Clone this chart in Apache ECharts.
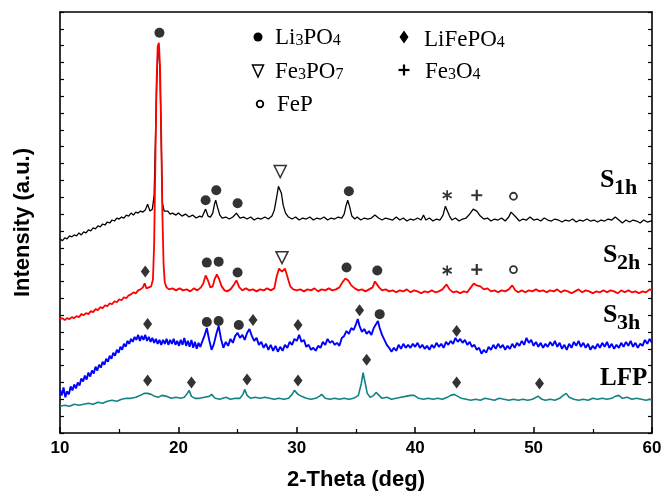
<!DOCTYPE html>
<html>
<head>
<meta charset="utf-8" />
<title>XRD</title>
<script src="https://cdn.jsdelivr.net/npm/echarts@6/dist/echarts.min.js"></script>
<style>
  html, body { margin: 0; padding: 0; background: #fff; }
  #chart { width: 665px; height: 496px; }
</style>
</head>
<body>
<div id="chart"></div>
<script>
// intensity is in arbitrary units, offset per pattern as in the figure
var s1h = [[10,196],[10.2,194],[10.4,197],[10.6,196],[10.8,199],[11,198],[11.2,200],[11.4,199],[11.6,202],[11.8,200],[12,203],[12.2,202],[12.4,205],[12.6,204],[12.8,207],[13,206],[13.2,209],[13.4,208],[13.6,211],[13.8,210],[14,213],[14.2,212],[14.4,215],[14.6,214],[14.8,217],[15,216],[15.2,218],[15.4,217],[15.6,220],[15.8,219],[16,222],[16.2,220],[16.4,223],[16.6,222],[16.8,224],[17,223],[17.2,225],[17.4,231],[17.6,224],[17.8,226],[17.95,240],[18.05,290],[18.15,345],[18.25,382],[18.35,386],[18.45,362],[18.55,295],[18.65,232],[18.8,224],[18.95,222],[19.1,224],[19.3,221],[19.5,222],[19.8,220],[20,222],[20.3,219],[20.6,221],[20.9,218],[21.2,220],[21.5,217],[21.8,219],[22.0,218],[22.15,222],[22.3,226],[22.5,219],[22.7,218],[22.9,222],[23.05,231],[23.15,235],[23.3,228],[23.5,220],[23.7,217],[24.0,218],[24.3,216],[24.6,218],[24.9,222],[25.2,217],[25.5,218],[25.8,216],[26.1,218],[26.4,215],[26.7,217],[27.0,216],[27.3,218],[27.6,216],[27.9,219],[28.1,225],[28.3,238],[28.45,249],[28.55,250],[28.7,242],[28.85,230],[29.05,222],[29.3,218],[29.6,216],[29.9,218],[30.2,215],[30.5,217],[30.8,216],[31.1,218],[31.4,215],[31.7,217],[32.0,216],[32.3,218],[32.6,215],[32.9,217],[33.2,216],[33.5,218],[33.8,217],[34.0,221],[34.15,229],[34.3,235],[34.45,229],[34.65,219],[34.9,216],[35.1,218],[35.4,215],[35.7,217],[36.0,216],[36.3,217],[36.6,220],[36.9,217],[37.2,215],[37.5,217],[37.8,216],[38.1,215],[38.4,218],[38.7,215],[39.0,217],[39.3,214],[39.6,216],[39.9,215],[40.2,217],[40.5,215],[40.7,220],[40.9,215],[41.2,217],[41.5,214],[41.8,216],[42.1,215],[42.35,220],[42.55,229],[42.7,228],[42.9,219],[43.1,215],[43.4,217],[43.7,214],[44.0,216],[44.3,217],[44.6,221],[44.9,226],[45.2,224],[45.5,219],[45.8,216],[46.1,217],[46.4,214],[46.7,216],[47.0,215],[47.3,217],[47.6,214],[47.9,218],[48.1,223],[48.25,225],[48.5,218],[48.8,214],[49.1,216],[49.4,215],[49.7,218],[50.0,215],[50.3,216],[50.6,214],[50.9,217],[51.2,215],[51.5,214],[51.8,216],[52.1,215],[52.4,213],[52.7,215],[53.0,214],[53.3,216],[53.6,213],[53.9,215],[54.2,214],[54.5,216],[54.8,214],[55.1,215],[55.4,213],[55.7,215],[56.0,214],[56.3,216],[56.6,215],[56.9,218],[57.2,215],[57.5,212],[57.8,215],[58.1,213],[58.4,215],[58.7,214],[59.0,212],[59.3,215],[59.6,213],[59.9,214],[60,214]];

var s2h = [[10,115],[10.2,116],[10.4,114],[10.6,116],[10.8,115],[11,117],[11.2,116],[11.4,118],[11.6,117],[11.8,120],[12,119],[12.2,121],[12.4,120],[12.6,123],[12.8,122],[13,125],[13.2,124],[13.4,127],[13.6,126],[13.8,129],[14,128],[14.2,131],[14.4,130],[14.6,133],[14.8,132],[15,135],[15.2,134],[15.4,137],[15.6,136],[15.8,139],[16,140],[16.2,142],[16.4,141],[16.6,144],[16.8,145],[17.0,147],[17.15,151],[17.3,146],[17.5,147],[17.7,148],[17.85,155],[17.95,190],[18.05,270],[18.15,350],[18.25,390],[18.35,394],[18.45,370],[18.55,300],[18.65,220],[18.75,170],[18.85,152],[19.0,147],[19.2,145],[19.5,146],[19.8,144],[20.1,146],[20.4,144],[20.7,145],[21.0,143],[21.3,146],[21.6,144],[21.9,147],[22.1,151],[22.3,159],[22.5,154],[22.7,147],[22.9,148],[23.05,155],[23.25,160],[23.45,155],[23.65,148],[23.9,144],[24.1,143],[24.4,145],[24.65,149],[24.9,154],[25.15,147],[25.4,144],[25.7,146],[26.0,144],[26.3,145],[26.6,143],[26.9,145],[27.2,144],[27.5,146],[27.8,144],[28.1,146],[28.3,158],[28.5,166],[28.75,163],[29.0,166],[29.2,158],[29.45,148],[29.7,145],[30.0,144],[30.3,145],[30.6,143],[30.9,145],[31.2,144],[31.5,146],[31.8,143],[32.1,145],[32.4,144],[32.7,146],[33.0,144],[33.3,145],[33.6,147],[33.9,153],[34.1,156],[34.35,154],[34.6,149],[34.9,146],[35.2,144],[35.5,145],[35.8,143],[36.1,145],[36.4,147],[36.6,153],[36.75,155],[36.95,147],[37.2,144],[37.5,145],[37.8,143],[38.1,144],[38.4,142],[38.7,144],[39.0,143],[39.3,145],[39.6,142],[39.9,144],[40.2,143],[40.5,141],[40.8,143],[41.1,142],[41.4,144],[41.7,142],[42.0,143],[42.3,145],[42.65,150],[42.9,145],[43.2,142],[43.5,143],[43.8,141],[44.1,143],[44.4,142],[44.7,147],[44.95,151],[45.2,149],[45.5,148],[45.8,145],[46.1,146],[46.4,143],[46.7,144],[47.0,142],[47.3,144],[47.6,143],[47.9,145],[48.2,149],[48.45,144],[48.7,142],[49.0,144],[49.3,142],[49.6,144],[49.9,143],[50.2,145],[50.5,143],[50.8,144],[51.1,142],[51.4,144],[51.7,143],[52.0,145],[52.3,142],[52.6,144],[52.9,143],[53.2,141],[53.5,143],[53.8,145],[54.1,142],[54.4,144],[54.7,143],[55.0,141],[55.3,143],[55.6,142],[55.9,144],[56.2,142],[56.5,144],[56.8,143],[57.1,141],[57.4,144],[57.7,142],[58.0,144],[58.3,142],[58.6,143],[58.9,141],[59.2,143],[59.5,142],[59.8,145],[60,144]];

var s3h = [[10,44],[10.15,38],[10.3,46],[10.45,36],[10.6,42],[10.75,39],[10.9,47],[11.05,43],[11.2,49],[11.35,45],[11.5,51],[11.65,48],[11.8,55],[11.95,52],[12.1,58],[12.25,54],[12.4,61],[12.55,57],[12.7,63],[12.85,60],[13.0,67],[13.15,63],[13.3,69],[13.45,66],[13.6,72],[13.75,69],[13.9,75],[14.05,72],[14.2,78],[14.35,75],[14.5,81],[14.65,78],[14.8,84],[14.95,81],[15.1,87],[15.25,84],[15.4,90],[15.55,87],[15.7,93],[15.85,90],[16.0,95],[16.15,92],[16.3,97],[16.45,94],[16.6,99],[16.75,93],[16.9,98],[17.05,94],[17.2,99],[17.35,93],[17.5,97],[17.65,92],[17.8,96],[17.95,91],[18.1,95],[18.25,90],[18.4,94],[18.55,89],[18.7,94],[18.85,90],[19.0,95],[19.15,89],[19.3,94],[19.45,90],[19.6,95],[19.75,89],[19.9,93],[20.05,88],[20.2,94],[20.35,89],[20.5,96],[20.65,88],[20.8,93],[20.95,87],[21.1,94],[21.25,86],[21.4,92],[21.55,85],[21.7,91],[21.85,87],[22.0,92],[22.2,98],[22.4,106],[22.6,94],[22.8,84],[23.0,90],[23.2,100],[23.4,108],[23.6,95],[23.8,86],[24.0,92],[24.2,88],[24.4,95],[24.6,91],[24.8,98],[25.0,101],[25.2,96],[25.4,99],[25.6,94],[25.8,101],[26.0,105],[26.2,98],[26.4,93],[26.6,96],[26.8,89],[27.0,92],[27.2,86],[27.4,90],[27.6,84],[27.8,89],[28.0,83],[28.2,88],[28.4,82],[28.6,87],[28.8,83],[29.0,89],[29.2,86],[29.4,92],[29.6,89],[29.8,95],[30.0,93],[30.2,99],[30.4,92],[30.6,94],[30.8,87],[31.0,89],[31.2,84],[31.4,86],[31.6,83],[31.8,88],[32.0,86],[32.2,92],[32.4,89],[32.6,95],[32.8,91],[33.0,93],[33.2,89],[33.4,91],[33.6,88],[33.8,96],[34.0,98],[34.2,103],[34.4,100],[34.6,106],[34.8,104],[35.0,110],[35.15,115],[35.3,108],[35.5,102],[35.7,105],[35.9,100],[36.1,103],[36.3,99],[36.5,106],[36.7,110],[36.85,113],[37.0,106],[37.2,99],[37.4,94],[37.6,89],[37.8,86],[38.0,82],[38.2,86],[38.4,83],[38.6,89],[38.8,85],[39.0,90],[39.2,86],[39.4,89],[39.6,86],[39.8,90],[40.0,87],[40.2,91],[40.4,86],[40.6,89],[40.8,85],[41.0,88],[41.2,84],[41.4,89],[41.6,86],[41.8,91],[42.0,87],[42.2,90],[42.4,86],[42.6,92],[42.8,89],[43.0,93],[43.2,90],[43.4,96],[43.6,92],[43.8,95],[44.0,91],[44.2,94],[44.4,89],[44.6,92],[44.8,87],[45.0,89],[45.2,84],[45.4,86],[45.6,80],[45.8,84],[46.0,81],[46.2,87],[46.4,84],[46.6,89],[46.8,85],[47.0,90],[47.2,86],[47.4,89],[47.6,84],[47.8,88],[48.0,85],[48.2,90],[48.4,86],[48.6,91],[48.8,88],[49.0,93],[49.2,89],[49.4,96],[49.6,91],[49.8,94],[50.0,88],[50.2,92],[50.4,87],[50.6,91],[50.8,86],[51.0,90],[51.2,87],[51.4,92],[51.6,88],[51.8,93],[52.0,87],[52.2,91],[52.4,85],[52.6,89],[52.8,84],[53.0,90],[53.2,86],[53.4,92],[53.6,88],[53.8,93],[54.0,87],[54.2,91],[54.4,86],[54.6,90],[54.8,84],[55.0,88],[55.2,85],[55.4,90],[55.6,86],[55.8,91],[56.0,87],[56.2,92],[56.4,86],[56.6,90],[56.8,85],[57.0,89],[57.2,86],[57.4,91],[57.6,87],[57.8,92],[58.0,88],[58.2,93],[58.4,87],[58.6,91],[58.8,86],[59.0,90],[59.2,88],[59.4,94],[59.6,90],[59.8,95],[60,91]];

var lfp = [[10,27],[10.4,28],[10.8,27],[11.2,29],[11.6,28],[12,29],[12.4,30],[12.8,29],[13.2,31],[13.6,30],[14,32],[14.4,33],[14.8,32],[15.2,34],[15.6,35],[16,35],[16.4,36],[16.8,38],[17.1,40],[17.4,40],[17.7,39],[18.0,37],[18.3,36],[18.6,38],[19.0,37],[19.4,35],[19.8,36],[20.2,35],[20.5,36],[20.75,40],[20.9,43],[21.1,37],[21.4,35],[21.8,35],[22.2,36],[22.6,37],[22.8,39],[23.1,35],[23.5,34],[24.0,36],[24.4,34],[24.8,35],[25.2,35],[25.45,39],[25.6,44],[25.8,38],[26.1,35],[26.5,36],[26.9,35],[27.3,36],[27.7,35],[28.1,34],[28.5,35],[28.9,34],[29.3,35],[29.6,39],[29.8,43],[30.1,39],[30.4,37],[30.8,35],[31.2,34],[31.6,35],[31.9,37],[32.1,39],[32.4,35],[32.8,34],[33.2,35],[33.6,34],[34.0,35],[34.4,34],[34.8,35],[35.2,38],[35.45,50],[35.6,61],[35.75,52],[35.95,40],[36.2,36],[36.5,38],[36.7,41],[36.95,38],[37.2,35],[37.6,36],[38.0,34],[38.4,35],[38.8,36],[39.2,37],[39.6,38],[39.9,38],[40.3,35],[40.7,34],[41.1,35],[41.5,34],[41.9,35],[42.3,34],[42.7,36],[43.0,38],[43.3,39],[43.6,37],[43.9,35],[44.3,34],[44.7,33],[45.1,34],[45.5,33],[45.9,35],[46.3,34],[46.7,33],[47.1,35],[47.5,34],[47.9,33],[48.3,34],[48.7,33],[49.1,34],[49.5,33],[49.9,34],[50.2,36],[50.4,37],[50.7,34],[51.0,33],[51.4,34],[51.8,33],[52.2,35],[52.5,38],[52.75,40],[53.0,36],[53.4,34],[53.8,33],[54.2,34],[54.6,33],[55.0,35],[55.4,34],[55.8,35],[56.2,34],[56.6,35],[56.9,37],[57.2,38],[57.5,35],[57.9,36],[58.3,34],[58.7,35],[59.1,34],[59.5,33],[59.8,34],[60,33]];

// phase markers placed over the peaks
var dotPos = [[18.4,404],[22.3,235],[23.2,245],[25.0,232],[34.4,244],[22.4,172],[23.4,173],[25.0,162],[34.2,167],[36.8,164],[22.4,112],[23.4,113],[25.1,109],[37.0,120]];
var diamondPos = [[17.2,163],[17.4,110],[26.3,114],[30.1,109],[35.3,124],[43.5,103],[17.4,53],[21.1,51],[25.8,54],[30.1,53],[35.9,74],[43.5,51],[50.5,50]];
var trianglePos = [[28.6,264],[28.75,177]];
var starPos = [[42.7,240],[42.7,164]];
var plusPos = [[45.2,240],[45.2,165]];
var ringPos = [[48.3,239],[48.3,165]];

var xTicks = [10, 20, 30, 40, 50, 60];

var chart = echarts.init(document.getElementById('chart'), null, { renderer: 'canvas' });

var sans = 'Liberation Sans';
var serif = 'Liberation Serif';

function legendText(x, y, parts) {
  var rich = {
    n: { fontFamily: serif, fontSize: 23, color: '#000', verticalAlign: 'bottom', lineHeight: 23 },
    s: { fontFamily: serif, fontSize: 16, color: '#000', verticalAlign: 'bottom', lineHeight: 16 }
  };
  return {
    type: 'text', left: x, top: y - 12, z: 10,
    style: { text: parts, rich: rich }
  };
}

function sampleLabel(x, y, main, sub) {
  return [
    { type: 'text', x: x, y: y, z: 10,
      style: { text: main, fontFamily: serif, fontWeight: 'bold', fontSize: 26, fill: '#000', verticalAlign: 'middle' } },
    { type: 'text', x: x + 14, y: y + 8, z: 10,
      style: { text: sub, fontFamily: serif, fontWeight: 'bold', fontSize: 22, fill: '#000', verticalAlign: 'middle' } }
  ];
}

var graphics = [
  { type: 'circle', shape: { cx: 258, cy: 37, r: 4.5 }, style: { fill: '#000' } },
  { type: 'polygon', shape: { points: [[252.5, 65], [263.5, 65], [258, 77]] }, style: { fill: '#fff', stroke: '#000', lineWidth: 1.5 } },
  { type: 'circle', shape: { cx: 260, cy: 104, r: 3.3 }, style: { fill: 'none', stroke: '#000', lineWidth: 1.8 } },
  { type: 'polygon', shape: { points: [[404, 30.5], [408.5, 37], [404, 43.5], [399.5, 37]] }, style: { fill: '#000' } },
  { type: 'polyline', shape: { points: [[398.5, 70], [409.5, 70]] }, style: { stroke: '#000', lineWidth: 2.2 } },
  { type: 'polyline', shape: { points: [[404, 64.5], [404, 75.5]] }, style: { stroke: '#000', lineWidth: 2.2 } },
  legendText(275, 38, '{n|Li}{s|3}{n|PO}{s|4}'),
  legendText(275, 72, '{n|Fe}{s|3}{n|PO}{s|7}'),
  legendText(277, 105, '{n|FeP}'),
  legendText(424, 40, '{n|LiFePO}{s|4}'),
  legendText(425, 72, '{n|Fe}{s|3}{n|O}{s|4}'),
  { type: 'text', x: 600, y: 379, z: 10,
    style: { text: 'LFP', fontFamily: serif, fontWeight: 'bold', fontSize: 25, fill: '#000', verticalAlign: 'middle' } }
].concat(sampleLabel(600, 180, 'S', '1h'))
 .concat(sampleLabel(603, 255, 'S', '2h'))
 .concat(sampleLabel(603, 315, 'S', '3h'));

function lineSeries(name, data, color, width) {
  return {
    name: name, type: 'line', data: data, showSymbol: false, symbol: 'none',
    lineStyle: { color: color, width: width }, silent: true, z: 2
  };
}

function markSeries(data, symbol, size, style) {
  return {
    type: 'scatter', data: data, symbol: symbol, symbolSize: size,
    itemStyle: style, silent: true, z: 5
  };
}

var option = {
  animation: false,
  backgroundColor: '#fff',
  grid: { left: 60, right: 13, top: 12, bottom: 59 },
  xAxis: [
    {
      type: 'value', min: 10, max: 60, interval: 10, position: 'bottom',
      name: '2-Theta (deg)', nameLocation: 'middle', nameGap: 36,
      nameTextStyle: { fontFamily: sans, fontWeight: 'bold', fontSize: 22, color: '#000' },
      axisLine: { show: true, onZero: false, lineStyle: { color: '#000', width: 1.6 } },
      axisTick: { show: true, inside: true, length: 6, lineStyle: { color: '#000', width: 1.5 } },
      minorTick: { show: true, splitNumber: 2, length: 4, lineStyle: { color: '#000', width: 1.2 } },
      axisLabel: {
        fontFamily: sans, fontWeight: 'bold', fontSize: 17, color: '#000', margin: 7,
        showMinLabel: true, showMaxLabel: true,
        formatter: function (v) { return xTicks.indexOf(v) >= 0 ? String(v) : ''; }
      },
      splitLine: { show: false }
    },
    {
      type: 'value', min: 10, max: 60, position: 'top',
      axisLine: { show: true, onZero: false, lineStyle: { color: '#000', width: 1.6 } },
      axisTick: { show: false }, axisLabel: { show: false }, splitLine: { show: false }
    }
  ],
  yAxis: [
    {
      type: 'value', min: 0, max: 425, interval: 17, position: 'left',
      name: 'Intensity (a.u.)', nameLocation: 'middle', nameGap: 26,
      nameTextStyle: { fontFamily: sans, fontWeight: 'bold', fontSize: 22, color: '#000' },
      axisLine: { show: true, onZero: false, lineStyle: { color: '#000', width: 1.6 } },
      axisTick: { show: true, inside: true, length: 4, lineStyle: { color: '#000', width: 1.2 } },
      axisLabel: { show: false }, splitLine: { show: false }
    },
    {
      type: 'value', min: 0, max: 425, interval: 17, position: 'right',
      axisLine: { show: true, onZero: false, lineStyle: { color: '#000', width: 1.6 } },
      axisTick: { show: true, inside: true, length: 4, lineStyle: { color: '#000', width: 1.2 } },
      axisLabel: { show: false }, splitLine: { show: false }
    }
  ],
  series: [
    lineSeries('S1h', s1h, '#000000', 1.3),
    lineSeries('S2h', s2h, '#ff0000', 1.8),
    lineSeries('S3h', s3h, '#0000ff', 1.9),
    lineSeries('LFP', lfp, '#128282', 1.6),
    markSeries(dotPos, 'circle', 10, { color: '#000' }),
    markSeries(diamondPos, 'diamond', [9, 12], { color: '#000' }),
    markSeries(trianglePos, 'path://M0,0 L10,0 L5,10 Z', [12, 12], { color: '#fff', borderColor: '#000', borderWidth: 1.5 }),
    markSeries(starPos, 'path://M5,0 L5,10 M0.5,2.5 L9.5,7.5 M0.5,7.5 L9.5,2.5', [9, 10], { color: 'none', borderColor: '#000', borderWidth: 1.8 }),
    markSeries(plusPos, 'path://M5,0 L5,10 M0,5 L10,5', [11, 11], { color: 'none', borderColor: '#000', borderWidth: 2.2 }),
    markSeries(ringPos, 'circle', 7, { color: '#fff', borderColor: '#000', borderWidth: 1.8 })
  ],
  graphic: graphics
};

chart.setOption(option);
</script>
</body>
</html>
